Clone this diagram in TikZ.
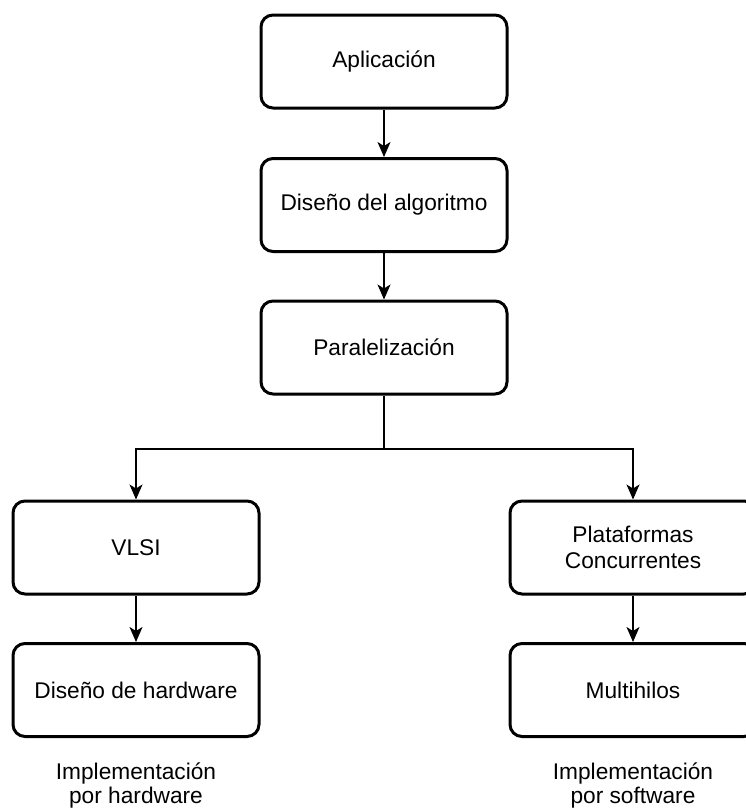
\documentclass[tikz,border=0pt]{standalone}
\usepackage{fontspec}
\setmainfont{Liberation Sans}
\usetikzlibrary{arrows.meta}

\tikzset{
  blok/.style={draw, line width=3pt, rounded corners=12pt, minimum width=246pt,
    minimum height=93pt, align=center, font=\fontsize{22.7}{26}\selectfont},
  conn/.style={line width=1.3pt, -{Stealth[length=15pt,width=13pt,inset=4pt]}},
  etiqueta/.style={align=center, font=\fontsize{22.7}{24}\selectfont}
}

\begin{document}
\begin{tikzpicture}[x=1pt,y=-1pt]
\useasboundingbox (0,0) rectangle (746,811);
\clip (0,0) rectangle (746,811);
% columna central
\node[blok] (apl) at (384,61.5) {Aplicación};
\node[blok] (dis) at (384,205) {Diseño del algoritmo};
\node[blok] (par) at (384,347.5) {Paralelización};
% ramas
\node[blok] (vlsi) at (136,547.5) {VLSI};
\node[blok] (plat) at (633,547.5) {Plataformas\\Concurrentes};
\node[blok] (hw) at (136,690) {Diseño de hardware};
\node[blok] (multi) at (633,690) {Multihilos};
\node[etiqueta] (imphw) at (136,785) {Implementación\\por hardware};
\node[etiqueta] (impsw) at (633,785) {Implementación\\por software};
\coordinate (split) at (384,449);
% conexiones
\draw[conn] (apl) -- (dis);
\draw[conn] (dis) -- (par);
\draw[line width=1.3pt] (par) -- (split);
\draw[conn] (split) -| (vlsi);
\draw[conn] (split) -| (plat);
\draw[conn] (vlsi) -- (hw);
\draw[conn] (plat) -- (multi);
\end{tikzpicture}
\end{document}
